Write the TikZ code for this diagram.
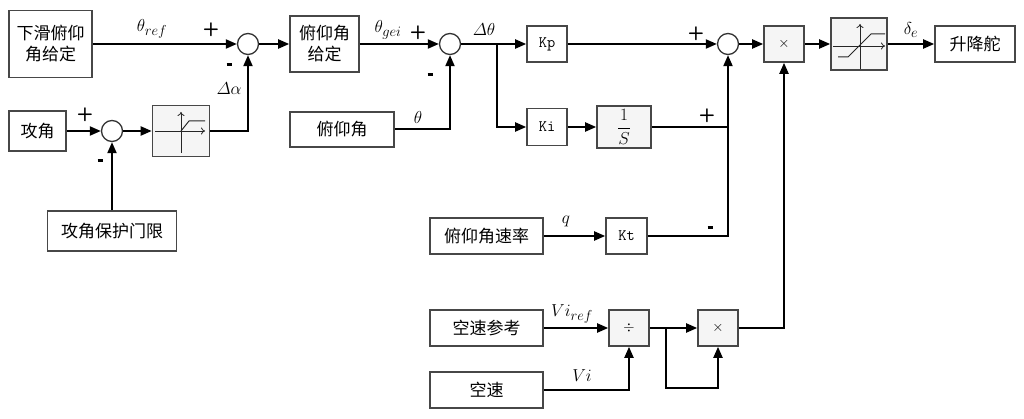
\documentclass[tikz,border=0pt]{standalone}
\usepackage{amsmath}
\usepackage{fontspec}
\newfontfamily\cjk{Noto Sans CJK SC}
\usetikzlibrary{arrows.meta,calc}
\tikzset{
  blk/.style={draw=black!72, line width=1.6pt, fill=white, inner sep=0pt, align=center,
    font=\cjk\fontsize{17}{21}\selectfont},
  fblk/.style={blk, fill=black!4},
  kblk/.style={blk, font=\ttfamily\fontsize{16}{18}\selectfont},
  sumc/.style={circle, draw=black!80, line width=1.3pt, fill=white, minimum size=21pt, inner sep=0pt},
  conn/.style={line width=2pt, -{Triangle[length=11pt,width=9pt]}},
  wire/.style={line width=2pt},
  lbl/.style={font=\fontsize{19}{20}\selectfont, inner sep=0pt},
  sgn/.style={font=\sffamily\bfseries\fontsize{19}{20}\selectfont, inner sep=0pt},
  ax/.style={line width=0.8pt, black!85, -{To[length=4pt,width=7pt]}},
  crv/.style={line width=1pt, black!85},
}
\newcommand{\mns}{\rule[3pt]{5pt}{2.4pt}}
\begin{document}
\begin{tikzpicture}[x=1pt,y=-1pt]
\useasboundingbox (0,0) rectangle (1024,419);
% blocks
\node[blk, minimum width=83pt, minimum height=67pt] (n1) at (50.5,44) {下滑俯仰\\角给定};
\node[sumc] (s1) at (248,44) {};
\node[blk, minimum width=57pt, minimum height=40pt] (n2) at (37.5,131) {攻角};
\node[sumc] (s2) at (112,131) {};
\node[fblk, minimum width=57pt, minimum height=51pt] (sat1) at (181,131) {};
\node[blk, minimum width=129pt, minimum height=40pt] (n3) at (112,231) {攻角保护门限};
\node[blk, minimum width=69pt, minimum height=56pt] (n4) at (324.5,44) {俯仰角\\给定};
\node[sumc] (s3) at (450,44) {};
\node[blk, minimum width=104pt, minimum height=35pt] (n5) at (342,129.5) {俯仰角};
\node[kblk, minimum width=40pt, minimum height=36pt] (kp) at (547,44) {Kp};
\node[kblk, minimum width=40pt, minimum height=37pt] (ki) at (547,127) {Ki};
\node[fblk, minimum width=54pt, minimum height=42pt, font=\fontsize{16}{16}\selectfont] (int) at (624,127) {$\dfrac{1}{S}$};
\node[sumc] (s4) at (728,44) {};
\node[fblk, minimum width=40pt, minimum height=36pt, font=\fontsize{14}{14}\selectfont] (m1) at (784,44) {$\times$};
\node[fblk, minimum width=56pt, minimum height=52pt] (sat2) at (859,44) {};
\node[blk, minimum width=80pt, minimum height=36pt] (out) at (975,44) {升降舵};
\node[blk, minimum width=113pt, minimum height=36pt] (n6) at (486.5,236) {俯仰角速率};
\node[kblk, minimum width=41pt, minimum height=36pt] (kt) at (626.5,236) {Kt};
\node[blk, minimum width=113pt, minimum height=36pt] (n7) at (486.5,328) {空速参考};
\node[fblk, minimum width=40pt, minimum height=36pt, font=\fontsize{14}{14}\selectfont] (dv) at (629,328) {$\div$};
\node[fblk, minimum width=40pt, minimum height=36pt, font=\fontsize{14}{14}\selectfont] (m2) at (718,328) {$\times$};
\node[blk, minimum width=113pt, minimum height=36pt] (n8) at (486.5,390) {空速};
% saturation glyphs
\draw[ax] ($(sat1.center)+(-26,0)$) -- ($(sat1.center)+(24,0)$);
\draw[ax] ($(sat1.center)+(0,22)$) -- ($(sat1.center)+(0,-19)$);
\draw[crv] (sat1.center) -- ($(sat1.center)+(8,-10)$) -- ($(sat1.center)+(24,-10)$);
\draw[ax] ($(sat2.center)+(-26,2)$) -- ($(sat2.center)+(26,2)$);
\draw[ax] ($(sat2.center)+(1,25)$) -- ($(sat2.center)+(1,-20)$);
\draw[crv] ($(sat2.center)+(-21,13)$) -- ($(sat2.center)+(-11,13)$) -- ($(sat2.center)+(12,-10)$) -- ($(sat2.center)+(26,-10)$);
% branch coordinates
\coordinate (b1) at (497,44);
\coordinate (b2) at (666,328);
\coordinate (j1) at (728,127);
\coordinate (lp) at (718,388);
% connectors
\draw[conn] (n1) -- (s1);
\draw[conn] (sat1.east) -| (s1.south);
\draw[conn] (n2) -- (s2);
\draw[conn] (s2) -- (sat1);
\draw[conn] (n3) -- (s2);
\draw[conn] (s1) -- (n4);
\draw[conn] (n4) -- (s3);
\draw[conn] (n5.east) -| (s3.south);
\draw[conn] (s3) -- (kp);
\draw[conn] (b1) |- (ki.west);
\draw[conn] (kp) -- (s4);
\draw[conn] (ki) -- (int);
\draw[wire] (int.east) -- (j1);
\draw[conn] (n6) -- (kt);
\draw[conn] (kt.east) -| (s4.south);
\draw[conn] (s4) -- (m1);
\draw[conn] (m1) -- (sat2);
\draw[conn] (sat2) -- (out);
\draw[conn] (n7) -- (dv);
\draw[conn] (n8.east) -| (dv.south);
\draw[conn] (dv) -- (m2);
\draw[conn] (b2) |- (lp) -- (m2.south);
\draw[conn] (m2.east) -| (m1.south);
% labels
\node[lbl] (l1) at (152,29) {$\theta_{ref}$};
\node[sgn] (p1) at (211,30) {+};
\node[sgn] (m1s) at (229,66) {\mns};
\node[lbl] (l2) at (229,89) {$\varDelta\alpha$};
\node[sgn] (p2) at (85,115) {+};
\node[sgn] (m2s) at (100,162) {\mns};
\node[lbl] (l3) at (388,30) {$\theta_{gei}$};
\node[sgn] (p3) at (418,33) {+};
\node[sgn] (m3s) at (430,76) {\mns};
\node[lbl] (l4) at (484,30) {$\varDelta\theta$};
\node[lbl] (l5) at (418,118) {$\theta$};
\node[sgn] (p4) at (696,34) {+};
\node[sgn] (p5) at (707,116) {+};
\node[lbl] (l6) at (911,30) {$\delta_{e}$};
\node[lbl] (l7) at (566,221) {$q$};
\node[sgn] (m4s) at (710,229) {\mns};
\node[lbl] (l8) at (572,314) {$Vi_{ref}$};
\node[lbl] (l9) at (582,376) {$Vi$};
\end{tikzpicture}
\end{document}
